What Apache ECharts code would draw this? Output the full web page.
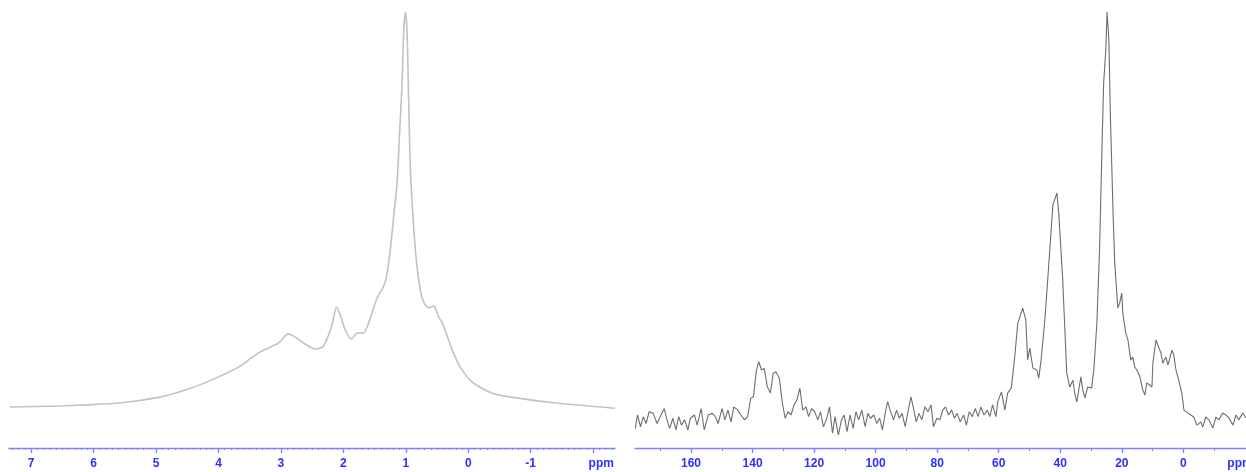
<!DOCTYPE html>
<html><head><meta charset="utf-8">
<script src="https://cdn.jsdelivr.net/npm/echarts@6/dist/echarts.min.js"></script>
<style>html,body{margin:0;padding:0;background:#fff}#c{width:1246px;height:472px}</style>
</head><body><div id="c"></div>
<script>
// 1H spectrum (left): chemical shift (ppm) and relative intensity
const h1Ppm = [7.34, 6.53, 6.2, 5.58, 4.94, 4.53, 4.19, 3.68, 3.36, 3.04, 2.88, 2.75, 2.59, 2.45, 2.32, 2.19, 2.11, 2.05, 1.97, 1.87, 1.78, 1.68, 1.58, 1.46, 1.36, 1.31, 1.25, 1.195, 1.14, 1.10, 1.06, 1.035, 1.008, 0.98, 0.955, 0.928, 0.885, 0.832, 0.768, 0.715, 0.635, 0.555, 0.475, 0.416, 0.256, 0.128, -0.064, -0.384, -0.768, -1.408, -2.35];
const h1Int = [0, 0.25, 0.5, 1.0, 2.5, 4.3, 6.3, 10.1, 13.7, 16.2, 18.5, 17.5, 15.7, 14.7, 15.4, 20.3, 25.3, 23.3, 19.5, 17.2, 18.7, 18.7, 22.0, 27.6, 30.4, 32.9, 39.7, 48.1, 56.7, 69.4, 82.0, 94.7, 100, 94.7, 77.7, 60.8, 48.1, 37.2, 29.6, 26.6, 25.1, 25.6, 22.8, 21.3, 14.4, 10.1, 6.3, 3.5, 2.3, 1.0, -0.3];

// 13C spectrum (right)
const c13Ppm = [178.1, 177.4, 176.4, 175.5, 174.6, 173.6, 172.3, 171.0, 170.0, 168.7, 167.8, 166.9, 165.9, 164.9, 164.0, 163.1, 162.1, 161.0, 160.2, 158.9, 158.0, 156.7, 155.7, 154.4, 153.1, 152.1, 151.2, 149.9, 149.0, 148.0, 147.0, 146.1, 144.8, 143.8, 142.6, 141.6, 140.6, 139.7, 138.8, 138.0, 137.1, 136.2, 135.2, 134.2, 133.3, 132.4, 131.3, 130.3, 129.4, 128.5, 127.5, 126.5, 125.6, 124.6, 123.7, 122.6, 121.8, 120.8, 119.8, 118.8, 117.9, 117.0, 116.0, 115.0, 114.0, 113.2, 112.1, 111.1, 110.2, 109.3, 108.3, 107.3, 106.4, 105.5, 104.5, 103.4, 102.5, 101.7, 100.6, 99.6, 98.7, 97.8, 96.8, 96.1, 95.3, 94.2, 93.2, 92.3, 91.4, 90.4, 89.4, 88.5, 87.8, 86.8, 85.9, 85.0, 84.0, 83.0, 82.0, 81.2, 80.1, 79.1, 78.2, 77.3, 76.3, 75.3, 74.4, 73.5, 72.5, 71.4, 70.5, 69.6, 68.6, 67.6, 66.7, 65.8, 64.8, 63.7, 62.9, 62.0, 60.9, 60.3, 59.1, 58.0, 57.1, 55.9, 54.8, 53.8, 52.2, 51.2, 50.6, 49.9, 48.9, 47.6, 47.0, 46.3, 45.0, 43.7, 42.4, 41.1, 40.5, 39.2, 38.5, 37.9, 36.9, 35.9, 35.3, 34.6, 33.3, 32.7, 32.0, 31.1, 29.8, 29.1, 28.1, 27.2, 26.6, 25.9, 25.2, 24.8, 24.2, 23.7, 22.8, 22.3, 21.3, 20.7, 20.0, 19.7, 18.7, 18.0, 17.1, 16.4, 15.8, 15.1, 14.1, 13.2, 12.5, 11.9, 10.9, 10.2, 9.9, 8.9, 8.3, 7.3, 6.7, 5.7, 5.0, 3.7, 3.1, 2.4, 1.5, 0.5, -0.2, -1.1, -2.4, -3.4, -4.4, -5.7, -6.3, -7.3, -8.3, -9.6, -10.6, -11.5, -12.8, -13.8, -14.8, -16.1, -17.1, -18.0, -19.3, -20.3];
const c13Int = [-2.8, 0.5, -2.4, 0.1, -1.6, 1.3, 0.9, -1.6, 0.1, 2.1, -0.7, -2.8, -0.3, -3.2, 0.1, -2.0, -0.7, -3.2, -0.3, 0.5, -2.0, 2.1, -3.2, 0.5, 0.9, 0.1, -1.6, 2.1, -0.7, 1.7, -1.2, 2.5, 1.7, 0.5, -0.7, 0.1, 4.6, 5.0, 11.2, 13.7, 11.6, 12.0, 7.5, 5.9, 10.8, 11.2, 9.6, 3.4, -0.3, 1.3, 0.5, 3.0, 4.2, 7.1, 1.7, 2.5, 0.1, 2.1, 1.3, -0.7, 1.3, -2.4, -0.7, 2.5, -4.0, 0.1, -4.4, -0.7, 0.5, -3.6, 0.5, -2.8, 1.3, -0.7, 1.7, -2.4, 0.9, -0.3, 0.5, -1.6, -0.3, -3.2, 1.3, 3.8, 1.7, -0.7, 1.7, -0.3, 0.9, -2.4, 1.7, 5.0, 2.5, -1.2, 0.9, -0.7, 2.5, 1.3, 3.0, -2.4, -0.3, -0.7, 1.7, 2.5, 0.5, 1.7, -0.3, 0.9, -1.2, 0.5, -2.0, 1.3, 0.1, 2.1, 0.1, 2.5, 0.5, 1.7, 0.1, 3.0, 0.1, 3.8, 6.2, 1.7, 5.9, 7.2, 14.8, 23.2, 26.9, 24.0, 14.1, 17.0, 12.1, 11.6, 9.6, 13.6, 24.0, 38.0, 52.3, 55.3, 50.4, 33.8, 21.5, 10.9, 7.4, 9.1, 5.9, 3.7, 9.9, 6.7, 4.7, 7.4, 7.2, 11.6, 23.2, 42.0, 61.7, 82.5, 90.6, 100, 93.1, 74.1, 49.4, 38.0, 26.9, 28.1, 30.6, 25.7, 20.7, 19.0, 14.1, 14.8, 12.3, 11.6, 9.9, 6.7, 5.4, 8.4, 7.9, 7.4, 13.3, 19.0, 17.8, 15.8, 13.3, 14.8, 12.8, 16.5, 15.3, 11.6, 9.1, 5.9, 1.7, 1.2, 0.5, 0, -2.0, -1.2, -2.5, 0, -0.7, -2.7, 0, -0.7, 1.0, 0.5, -0.2, -2.0, 0.5, -0.7, 1.0, -0.2];

// axis ticks / labels
const h1MajorTicks = [7, 6, 5, 4, 3, 2, 1, 0, -1, -2];
const h1TickLabels = [7, 6, 5, 4, 3, 2, 1, 0, -1];
const h1UnitPos = -2.13;
const c13MajorTicks = [160, 140, 120, 100, 80, 60, 40, 20, 0];
const c13MinorTicks = [170, 150, 130, 110, 90, 70, 50, 30, 10, -10];
const c13TickLabels = [160, 140, 120, 100, 80, 60, 40, 20, 0];
const c13UnitPos = -18.4;
const unitText = 'ppm';

const h1MinorTicks = [];
for (let i = -23; i <= 73; i++) { if (i % 10 !== 0) h1MinorTicks.push(i / 10); }

const axisBlue = '#8080ff';
const labelBlue = '#2e2eff';
const font = 'Liberation Sans, Arial, Helvetica, sans-serif';

function mainAxis(grid, min, max, ticks, labels, unitPos) {
  return {
    gridIndex: grid, type: 'value', inverse: true, min: min, max: max, position: 'bottom',
    axisLine: { show: true, onZero: false, lineStyle: { color: axisBlue, width: 1.3 } },
    axisTick: { show: true, customValues: ticks, length: 5, lineStyle: { color: axisBlue, width: 1.3 } },
    axisLabel: {
      show: true, customValues: labels.concat([unitPos]), margin: 10,
      color: labelBlue, fontWeight: 'bold', fontSize: 12, fontFamily: font,
      formatter: function (v) { return v === unitPos ? unitText : String(v); }
    },
    splitLine: { show: false }
  };
}
function minorAxis(grid, min, max, ticks, len) {
  return {
    gridIndex: grid, type: 'value', inverse: true, min: min, max: max, position: 'bottom',
    axisLine: { show: false, onZero: false },
    axisTick: { show: true, customValues: ticks, length: len, lineStyle: { color: axisBlue, width: 1 } },
    axisLabel: { show: false }, splitLine: { show: false }
  };
}
function zip(a, b) { return a.map((v, i) => [v, b[i]]); }

const chart = echarts.init(document.getElementById('c'), null, { renderer: 'canvas' });
chart.setOption({
  animation: false,
  backgroundColor: '#ffffff',
  grid: [
    { left: 9, width: 606, top: 12, bottom: 24, outerBoundsMode: 'none', containLabel: false },
    { left: 635, width: 611, top: 12, bottom: 24, outerBoundsMode: 'none', containLabel: false }
  ],
  xAxis: [
    mainAxis(0, -2.35, 7.355, h1MajorTicks, h1TickLabels, h1UnitPos),
    minorAxis(0, -2.35, 7.355, h1MinorTicks, 2),
    mainAxis(1, -20.36, 178.2, c13MajorTicks, c13TickLabels, c13UnitPos),
    minorAxis(1, -20.36, 178.2, c13MinorTicks, 3)
  ],
  yAxis: [
    { gridIndex: 0, type: 'value', min: -10.38, max: 100, show: false },
    { gridIndex: 1, type: 'value', min: -7.65, max: 100, show: false }
  ],
  series: [
    { type: 'line', xAxisIndex: 0, yAxisIndex: 0, data: zip(h1Ppm, h1Int), showSymbol: false, smooth: 0.25,
      lineStyle: { color: '#c2c2c2', width: 1.6 } },
    { type: 'line', xAxisIndex: 2, yAxisIndex: 1, data: zip(c13Ppm, c13Int), showSymbol: false, smooth: false,
      lineStyle: { color: '#6e6e6e', width: 1.1 } }
  ]
});
</script>
</body></html>
